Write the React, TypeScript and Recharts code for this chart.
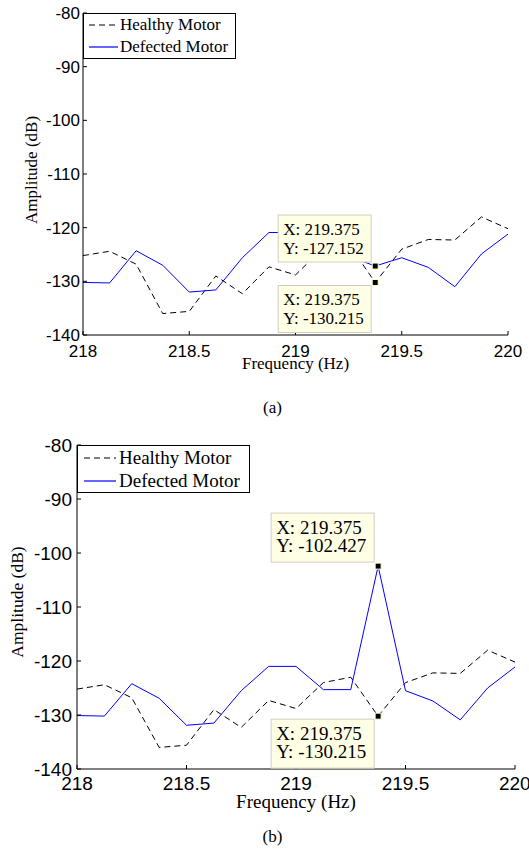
import { LineChart, Line, XAxis, YAxis, ReferenceDot, Legend } from "recharts";

const FREQ = [218, 218.125, 218.25, 218.375, 218.5, 218.625, 218.75, 218.875, 219, 219.125, 219.25, 219.375, 219.5, 219.625, 219.75, 219.875, 220];
const HEALTHY = [-125.2, -124.4, -126.8, -136.0, -135.6, -129.0, -132.3, -127.3, -128.8, -124.0, -123.0, -130.215, -124.0, -122.2, -122.3, -118.0, -120.2];
const DEFECTED_A = [-130.2, -130.3, -124.3, -127.0, -132.0, -131.6, -125.6, -120.9, -120.9, -125.3, -125.3, -127.152, -125.6, -127.4, -131.0, -124.9, -121.2];
const DEFECTED_B = [-130.1, -130.2, -124.2, -126.9, -131.9, -131.5, -125.5, -121.0, -121.0, -125.3, -125.3, -102.427, -125.5, -127.4, -130.9, -125.0, -121.1];
const X_TICKS = [218, 218.5, 219, 219.5, 220];
const Y_TICKS = [-140, -130, -120, -110, -100, -90, -80];
const SERIES = ["Healthy Motor", "Defected Motor"];
const MARK_INDEX = 11;

const SERIF = '"Liberation Serif", "Times New Roman", serif';
const SANS = '"Liberation Sans", Arial, sans-serif';

type Geo = {
  top: number;
  height: number;
  margin: { top: number; right: number; bottom: number; left: number };
  yAxisW: number;
  font: number;
  yLabelFont: number;
  tickMarginX: number;
  tickMarginY: number;
  yLabelDx: number;
  yLabelDy: number;
  xLabelOffset: number;
  legendW: number;
  legendH: number;
  legendLine: [number, number];
  legendText: number;
  tipW: number;
  tipH: number;
  tipGap: number;
  tipBase1: number;
  tipBase2: number;
  caption: string;
  captionTop: number;
};

type Tip = { y: number; below: boolean };

const GEO_A: Geo = {
  top: 0,
  height: 395,
  margin: { top: 13, right: 21, bottom: 38, left: 0 },
  yAxisW: 83,
  font: 17,
  yLabelFont: 17,
  tickMarginX: 14,
  tickMarginY: 7,
  yLabelDx: -11,
  yLabelDy: -4,
  xLabelOffset: 0,
  legendW: 153,
  legendH: 46,
  legendLine: [5, 34],
  legendText: 37,
  tipW: 93,
  tipH: 47,
  tipGap: 4,
  tipBase1: 20,
  tipBase2: 39,
  caption: "(a)",
  captionTop: 398,
};

const GEO_B: Geo = {
  top: 430,
  height: 395,
  margin: { top: 15, right: 14, bottom: 34, left: 0 },
  yAxisW: 77,
  font: 19,
  yLabelFont: 17.5,
  tickMarginX: 12,
  tickMarginY: 9,
  yLabelDx: -22,
  yLabelDy: -5,
  xLabelOffset: 4,
  legendW: 173,
  legendH: 48,
  legendLine: [6, 38],
  legendText: 42,
  tipW: 103,
  tipH: 49,
  tipGap: 4,
  tipBase1: 21,
  tipBase2: 39,
  caption: "(b)",
  captionTop: 827,
};

function DataTip({ cx, cy, value, below, g }: { cx?: number; cy?: number; value: number; below: boolean; g: Geo }) {
  if (cx == null || cy == null) return null;
  const bx = cx - g.tipGap - g.tipW;
  const by = below ? cy + g.tipGap - 1 : cy - g.tipGap - g.tipH;
  return (
    <g>
      <rect x={bx} y={by} width={g.tipW} height={g.tipH} fill="#ffffe6" stroke="#cfcfbf" strokeWidth={1} />
      <text x={bx + 5} y={by + g.tipBase1} fontFamily={SERIF} fontSize={g.font} fill="#000">
        X: {FREQ[MARK_INDEX].toFixed(3)}
      </text>
      <text x={bx + 5} y={by + g.tipBase2} fontFamily={SERIF} fontSize={g.font} fill="#000">
        Y: {value.toFixed(3)}
      </text>
      <rect x={cx - 3} y={cy - 3} width={6} height={6} fill="#000" stroke="#ffffcc" strokeWidth={1} />
    </g>
  );
}

function MotorPanel({ defected, tips, g }: { defected: number[]; tips: Tip[]; g: Geo }) {
  const rows = FREQ.map((f, i) => ({ f, healthy: HEALTHY[i], defected: defected[i] }));

  const legendContent = (props: any) => {
    const payload = [...(props.payload || [])].sort(
      (a: any, b: any) => SERIES.indexOf(a.value) - SERIES.indexOf(b.value)
    );
    const rowH = (g.legendH - 2) / 2;
    return (
      <div
        style={{
          width: g.legendW,
          height: g.legendH,
          border: "1px solid #000",
          boxSizing: "border-box",
          background: "#fff",
          fontFamily: SERIF,
          fontSize: g.font,
          color: "#000",
        }}
      >
        {payload.map((e: any, i: number) => (
          <div key={i} style={{ position: "relative", height: rowH, lineHeight: `${rowH}px` }}>
            <svg width={g.legendText} height={10} style={{ position: "absolute", left: 0, top: rowH / 2 - 5 }}>
              <line
                x1={g.legendLine[0]}
                x2={g.legendLine[1]}
                y1={5}
                y2={5}
                stroke={e.color}
                strokeWidth={1.2}
                strokeDasharray={e.payload?.strokeDasharray}
              />
            </svg>
            <span style={{ position: "absolute", left: g.legendText - 1, whiteSpace: "nowrap" }}>{e.value}</span>
          </div>
        ))}
      </div>
    );
  };

  return (
    <>
      <div style={{ position: "absolute", left: 0, top: g.top }}>
        <LineChart width={529} height={g.height} data={rows} margin={g.margin}>
          <XAxis
            xAxisId="bottom"
            dataKey="f"
            type="number"
            domain={[218, 220]}
            ticks={X_TICKS}
            allowDataOverflow
            height={22}
            stroke="#000"
            tickSize={-4}
            tickMargin={g.tickMarginX}
            tick={{ fill: "#000", fontSize: g.font, fontFamily: SANS }}
            label={{
              value: "Frequency (Hz)",
              position: "bottom",
              offset: g.xLabelOffset,
              style: { fontFamily: SERIF, fontSize: g.font, fill: "#000" },
            }}
          />
          <XAxis
            xAxisId="top"
            orientation="top"
            dataKey="f"
            type="number"
            domain={[218, 220]}
            ticks={X_TICKS}
            allowDataOverflow
            height={0}
            stroke="#000"
            tickSize={-4}
            tick={false}
          />
          <YAxis
            yAxisId="left"
            type="number"
            domain={[-140, -80]}
            ticks={Y_TICKS}
            allowDataOverflow
            width={g.yAxisW}
            stroke="#000"
            tickSize={-4}
            tickMargin={g.tickMarginY}
            tick={{ fill: "#000", fontSize: g.font, fontFamily: SANS }}
            label={{
              value: "Amplitude (dB)",
              angle: -90,
              position: "center",
              dx: g.yLabelDx,
              dy: g.yLabelDy,
              style: { fontFamily: SERIF, fontSize: g.yLabelFont, fill: "#000" },
            }}
          />
          <YAxis
            yAxisId="right"
            orientation="right"
            type="number"
            domain={[-140, -80]}
            ticks={Y_TICKS}
            allowDataOverflow
            width={0}
            stroke="#000"
            tickSize={-4}
            tick={false}
          />
          <Legend
            layout="vertical"
            align="center"
            verticalAlign="middle"
            wrapperStyle={{ top: g.margin.top, left: g.yAxisW, width: "auto" }}
            content={legendContent}
          />
          <Line
            xAxisId="bottom"
            yAxisId="left"
            dataKey="healthy"
            name={SERIES[0]}
            stroke="#000"
            strokeWidth={1}
            strokeDasharray="6 4"
            dot={false}
            isAnimationActive={false}
          />
          <Line
            xAxisId="bottom"
            yAxisId="left"
            dataKey="defected"
            name={SERIES[1]}
            stroke="#0000ff"
            strokeWidth={1}
            dot={false}
            isAnimationActive={false}
          />
          {tips.map((t, i) => (
            <ReferenceDot
              key={i}
              xAxisId="bottom"
              yAxisId="left"
              x={FREQ[MARK_INDEX]}
              y={t.y}
              r={3}
              shape={(p: any) => <DataTip cx={p.cx} cy={p.cy} value={t.y} below={t.below} g={g} />}
            />
          ))}
        </LineChart>
      </div>
      <div
        style={{
          position: "absolute",
          left: 0,
          width: 545,
          top: g.captionTop,
          textAlign: "center",
          fontFamily: SERIF,
          fontSize: 17,
          color: "#000",
        }}
      >
        {g.caption}
      </div>
    </>
  );
}

export default function App() {
  return (
    <div style={{ position: "absolute", left: 0, top: 0, width: 529, height: 853, background: "#fff", overflow: "hidden" }}>
      <MotorPanel
        defected={DEFECTED_A}
        g={GEO_A}
        tips={[
          { y: DEFECTED_A[MARK_INDEX], below: false },
          { y: HEALTHY[MARK_INDEX], below: true },
        ]}
      />
      <MotorPanel
        defected={DEFECTED_B}
        g={GEO_B}
        tips={[
          { y: DEFECTED_B[MARK_INDEX], below: false },
          { y: HEALTHY[MARK_INDEX], below: true },
        ]}
      />
    </div>
  );
}
